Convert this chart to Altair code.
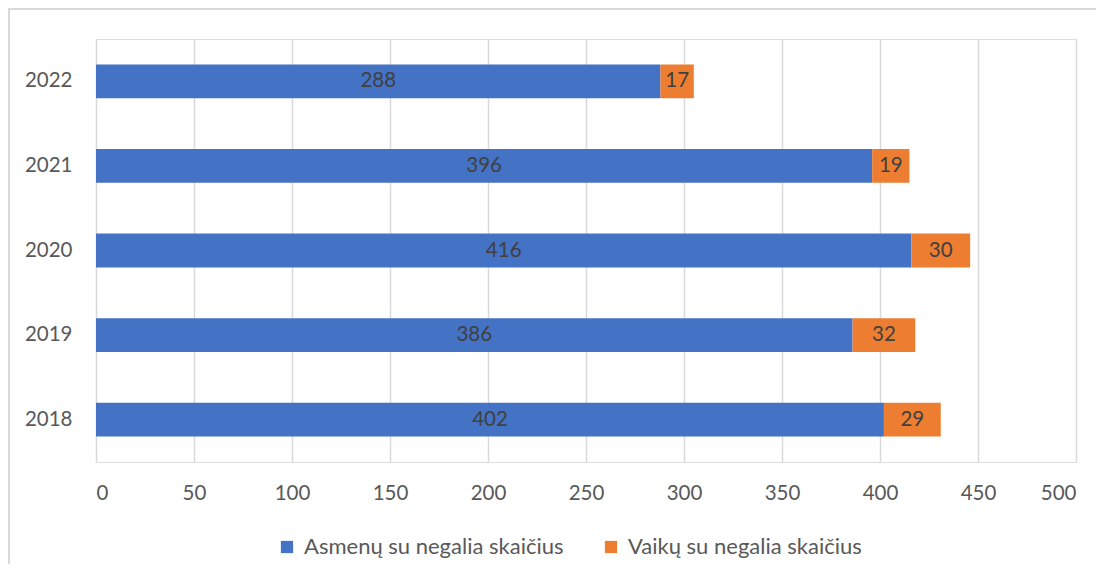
import altair as alt
import pandas as pd

years = ["2018", "2019", "2020", "2021", "2022"]
asmenu = [402, 386, 416, 396, 288]
vaiku = [29, 32, 30, 19, 17]
series = ["Asmenų su negalia skaičius", "Vaikų su negalia skaičius"]
colors = ["#4472C4", "#ED7D31"]

rows = []
for i, y in enumerate(years):
    rows.append({"year": y, "series": series[0], "order": 0, "value": asmenu[i]})
    rows.append({"year": y, "series": series[1], "order": 1, "value": vaiku[i]})
df = pd.DataFrame(rows)

FONT = "Lato"
W, H = 980, 423

base = alt.Chart(df).transform_stack(
    stack="value", groupby=["year"], as_=["x0", "x1"],
    sort=[alt.SortField("order", order="ascending")]
).transform_calculate(mid="(datum.x0 + datum.x1) / 2")

yenc = alt.Y("year:N", sort="descending", title=None,
             scale=alt.Scale(paddingInner=0.6, paddingOuter=0.3),
             axis=alt.Axis(labelPadding=24, labelFontSize=20.5, labelColor="#595959",
                           labelFont=FONT, ticks=False, domain=False, grid=False))

bars = base.mark_bar().encode(
    x=alt.X("x0:Q", title=None,
            scale=alt.Scale(domain=[0, 500], nice=False),
            axis=alt.Axis(values=list(range(0, 501, 50)), labelPadding=21,
                          labelFontSize=20.5, labelColor="#595959", labelFont=FONT,
                          ticks=False, domain=False, grid=True, gridColor="#d9d9d9",
                          gridWidth=1.5)),
    x2="x1:Q",
    y=yenc,
    color=alt.Color("series:N", scale=alt.Scale(domain=series, range=colors),
                    title=None,
                    legend=alt.Legend(orient="none", legendX=180, legendY=497,
                                      direction="horizontal", symbolType="square",
                                      symbolSize=150, symbolStrokeWidth=0,
                                      labelFontSize=22, labelColor="#595959",
                                      labelFont=FONT, columnPadding=36,
                                      labelOffset=6, labelLimit=400)),
)

labels = base.mark_text(fontSize=20.5, color="#404040", font=FONT).encode(
    x="mid:Q",
    y=alt.Y("year:N", sort="descending"),
    text="value:Q",
)

border = alt.Chart(df).mark_rect(filled=False, stroke="#d9d9d9", strokeWidth=1.5).encode(
    x=alt.value(-87.2), x2=alt.value(W + 60),
    y=alt.value(-30), y2=alt.value(H + 200),
)

chart = alt.layer(border, bars, labels).properties(
    width=W, height=H,
    autosize=alt.AutoSizeParams(type="none"),
    padding={"left": 88, "top": 31, "right": 20, "bottom": 102},
).configure_view(stroke=None).configure(background="white")

chart.save("out.html", embed_options={"renderer": "svg", "actions": False})
